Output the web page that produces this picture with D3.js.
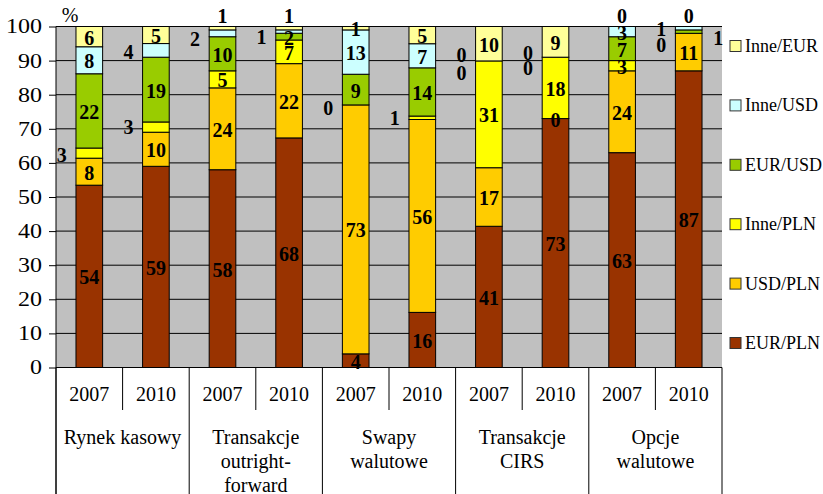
<!DOCTYPE html>
<html>
<head>
<meta charset="utf-8">
<script src="https://cdn.jsdelivr.net/npm/d3@7"></script>
<style>
  body { margin: 0; background: #fff; }
</style>
</head>
<body>
<script>

// bars: group x year
var years = ["2007", "2010"];
var groups = [["Rynek kasowy"], ["Transakcje", "outright-", "forward"], ["Swapy", "walutowe"], ["Transakcje", "CIRS"], ["Opcje", "walutowe"]];

// series, bottom to top (values in %)
var seriesNames = ["EUR/PLN", "USD/PLN", "Inne/PLN", "EUR/USD", "Inne/USD", "Inne/EUR"];
var eurPln  = [54, 59, 58, 68, 4, 16, 41, 73, 63, 87];
var usdPln  = [8, 10, 24, 22, 73, 56, 17, 0, 24, 11];
var innePln = [3, 3, 5, 7, 0, 1, 31, 18, 3, 0];
var eurUsd  = [22, 19, 10, 2, 9, 14, 0, 0, 7, 1];
var inneUsd = [8, 4, 2, 1, 13, 7, 0, 0, 3, 1];
var inneEur = [6, 5, 1, 1, 1, 5, 10, 9, 0, 0];
var yTicks = [0, 10, 20, 30, 40, 50, 60, 70, 80, 90, 100];

var colors = ["#993300", "#FFCC00", "#FFFF00", "#99CC00", "#CCFFFF", "#FFFF99"];

// where each value label sits: c = inside, l = left of bar, r = right, t = above; number = dy in px
var labelPlace = [
  "c c l2 c c c",
  "c c l c l2 c",
  "c c c c l6 t",
  "c c c c l5 t",
  "c c l3 c c c",
  "c c l c c c",
  "c c c l12 l-6 c",
  "c c c l11 l-4 c",
  "c c c c c t",
  "c c l12 r6 l1 t"
];

var FONT = "Liberation Serif";
var W = 823, H = 494;
var plotL = 56, plotR = 722, plotT = 26.5, plotB = 367.5;

var svg = d3.select("body").append("svg")
    .attr("width", W)
    .attr("height", H);

var cols = [eurPln, usdPln, innePln, eurUsd, inneUsd, inneEur];
var rows = d3.range(10).map(function(i) {
  var r = {i: i};
  seriesNames.forEach(function(s, k) { r[s] = cols[k][i]; });
  return r;
});

var stack = d3.stack().keys(seriesNames).offset(d3.stackOffsetExpand);
var layers = stack(rows);

var x = d3.scaleBand()
    .domain(d3.range(10))
    .range([plotL, plotR])
    .paddingInner(0.6)
    .paddingOuter(0.3);
var y = d3.scaleLinear()
    .domain([0, 100])
    .range([plotB, plotT]);

// plot background
svg.append("rect")
    .attr("x", plotL).attr("y", plotT)
    .attr("width", plotR - plotL).attr("height", plotB - plotT)
    .style("fill", "#C0C0C0");

// gridlines
svg.append("g")
  .selectAll("line")
  .data(yTicks)
  .enter().append("line")
    .attr("x1", plotL).attr("x2", plotR)
    .attr("y1", function(d) { return y(d); })
    .attr("y2", function(d) { return y(d); })
    .style("stroke", "#000")
    .style("stroke-width", 1);

// bars
var layer = svg.append("g").selectAll("g")
    .data(layers)
    .enter().append("g")
    .style("fill", function(d, k) { return colors[k]; });

layer.selectAll("rect")
    .data(function(d) { return d; })
    .enter().append("rect")
    .attr("x", function(d, i) { return x(i); })
    .attr("width", x.bandwidth())
    .attr("y", function(d) { return y(d[1] * 100); })
    .attr("height", function(d) { return y(d[0] * 100) - y(d[1] * 100); })
    .style("stroke", "#000")
    .style("stroke-width", 1);

// y axis
var yAxis = svg.append("g")
    .attr("transform", "translate(" + plotL + ",0)")
    .call(d3.axisLeft(y).tickValues(yTicks).tickSize(7).tickPadding(7).tickSizeOuter(0));
yAxis.select(".domain").remove();
yAxis.selectAll("line").style("stroke", "#000");
yAxis.selectAll("text")
    .style("font-family", FONT)
    .style("font-size", "20px")
    .style("fill", "#000")
    .attr("textLength", function(d) { return String(d).length * 12; })
    .attr("lengthAdjust", "spacingAndGlyphs");

svg.append("text")
    .attr("x", 70).attr("y", 15)
    .attr("dominant-baseline", "central")
    .style("text-anchor", "middle")
    .style("font-family", FONT)
    .style("font-size", "20px")
    .text("%");

// left axis line running down through the category area
svg.append("line")
    .attr("x1", plotL).attr("x2", plotL)
    .attr("y1", plotT).attr("y2", H)
    .style("stroke", "#000");

// category axis: year labels + separators
var step = x.step();
var catAxis = svg.append("g")
    .attr("transform", "translate(0," + plotB + ")")
    .call(d3.axisBottom(x).tickSize(0).tickPadding(19).tickFormat(function(d) { return years[d % 2]; }));
catAxis.select(".domain").remove();
catAxis.selectAll("text")
    .style("font-family", FONT)
    .style("font-size", "20px")
    .style("fill", "#000");

d3.range(11).forEach(function(k) {
  var xx = plotL + k * step;
  svg.append("line")
      .attr("x1", xx).attr("x2", xx)
      .attr("y1", plotB)
      .attr("y2", k % 2 === 0 ? H : 410)
      .style("stroke", "#000");
});

svg.append("g").selectAll("text")
    .data(groups)
    .enter().append("text")
    .attr("transform", function(d, g) { return "translate(" + (plotL + (g + 1) * 2 * step - step) + ",437)"; })
    .style("text-anchor", "middle")
    .style("font-family", FONT)
    .style("font-size", "20px")
    .each(function(d) {
      var t = d3.select(this);
      d.forEach(function(line, j) {
        t.append("tspan").attr("x", 0).attr("y", j * 24).attr("dy", "0.35em").text(line);
      });
    });

// value labels
layers.forEach(function(ly, k) {
  ly.forEach(function(d, i) {
    var code = labelPlace[i].split(" ")[k];
    var mode = code.charAt(0);
    var dy = code.length > 1 ? +code.slice(1) : 0;
    var cx = x(i) + x.bandwidth() / 2;
    var cy = (y(d[0] * 100) + y(d[1] * 100)) / 2;
    if (mode === "l") cx -= 27.5;
    if (mode === "r") cx += 29.5;
    if (mode === "t") cy = plotT - 10.5;
    if (mode === "c") dy += 1;
    svg.append("text")
        .attr("x", cx)
        .attr("y", cy + dy)
        .attr("dominant-baseline", "central")
        .style("text-anchor", "middle")
        .style("font-family", FONT)
        .style("font-size", "20px")
        .style("font-weight", "bold")
        .text(cols[k][i]);
  });
});

// legend (top item = top series)
var legend = svg.append("g").selectAll("g")
    .data(seriesNames.slice().reverse())
    .enter().append("g")
    .attr("transform", function(d, i) { return "translate(730," + (46 + i * 59.4) + ")"; });

legend.append("rect")
    .attr("x", 0).attr("y", -5.5)
    .attr("width", 11).attr("height", 11)
    .style("fill", function(d) { return colors[seriesNames.indexOf(d)]; })
    .style("stroke", "#333");

legend.append("text")
    .attr("x", 15)
    .attr("dominant-baseline", "central")
    .style("font-family", FONT)
    .style("font-size", "18px")
    .text(function(d) { return d; });

</script>
</body>
</html>
